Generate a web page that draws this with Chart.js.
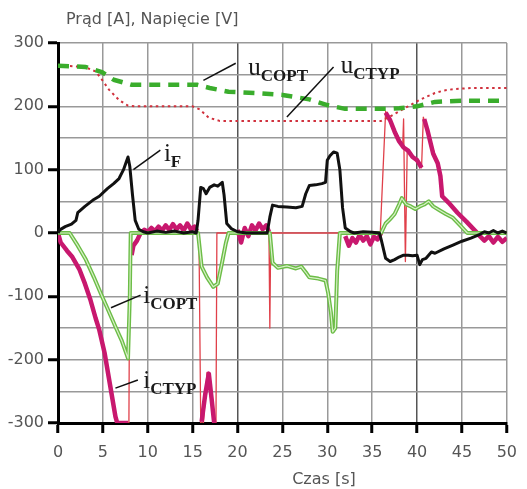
<!DOCTYPE html>
<html>
<head>
<meta charset="utf-8">
<script src="https://cdn.jsdelivr.net/npm/chart.js@4.4.0/dist/chart.umd.min.js"></script>
<style>
  html, body { margin: 0; padding: 0; background: #fff; }
  canvas { display: block; }
</style>
</head>
<body>
<canvas id="wykres" width="527" height="489"></canvas>
<script>
// Przebiegi pradow i napiec w funkcji czasu [s]

// i_F - prad (czarny)
const iFCzas = [0, 0.2, 0.8, 1.5, 2.0, 2.2, 3, 4, 4.6, 5.5, 6.2, 6.8, 7.3, 7.6, 7.8, 8.0, 8.3, 8.6, 9.0, 9.5, 10, 11, 12, 13, 14, 15, 15.4,
  15.6, 15.9, 16.2, 16.5, 16.9, 17.4, 17.8, 18.3, 18.5, 18.8, 19.3, 20, 21, 23.3,
  23.6, 23.9, 24.5, 25.5, 26.5, 27.2, 27.6, 28, 28.7, 29.4, 29.8, 30.0, 30.3, 30.7, 31.1, 31.4, 31.7, 32, 32.6, 33, 34, 35, 35.8,
  36.0, 36.5, 37, 37.5, 38, 38.5, 39, 39.5, 40, 40.3, 40.6, 41.0, 41.6, 42, 43, 44, 45, 46, 47, 47.5, 48, 48.5, 49, 49.5, 50];
const iFWart = [0, 5, 10, 14, 20, 32, 42, 53, 58, 70, 78, 86, 100, 112, 120, 105, 60, 20, 6, 2, 0, 3, 1, 3, 0, 2, 0,
  20, 72, 70, 62, 72, 76, 74, 80, 60, 15, 7, 2, 0, 0,
  25, 44, 42, 41, 40, 42, 62, 75, 76, 78, 80, 115, 122, 128, 126, 100, 40, 8, 2, 0, 2, 1, 0,
  -10, -40, -45, -42, -38, -35, -35, -36, -35, -50, -42, -40, -30, -32, -25, -19, -13, -8, -2, 2, 0, 4, 0, 3, 0];

// i_COPT - prad (zielony)
const iCoptCzas = [0, 1.3, 2.2, 3.1, 4.0, 4.9, 5.6, 6.4, 7.1, 7.8, 8.0, 8.1, 15.6,
  16.0, 16.6, 17.3, 17.8, 18.3, 18.7, 19, 23.6,
  23.9, 24.5, 25.5, 26.5, 27.1, 27.6, 28, 29, 29.8, 30.1, 30.4, 30.6, 30.9, 31.1, 31.4, 36,
  36.5, 37, 37.5, 38, 38.3, 38.8, 39.3, 39.8, 40.3, 40.8, 41.3, 41.8, 42.5, 43.2, 44, 44.8, 45.6, 50];
const iCoptWart = [0, 0, -20, -42, -70, -100, -122, -148, -170, -198, -100, 0, 0,
  -53, -70, -85, -80, -45, -16, 0, 0,
  -47, -55, -52, -56, -53, -62, -70, -72, -75, -95, -125, -156, -150, -60, 0, 0,
  15, 22, 30, 45, 55, 45, 42, 38, 42, 45, 50, 42, 36, 30, 24, 12, 0, 0];

// i_CTYP - prad (purpurowy, gruby); null = przerwa w przebiegu
const iCtypCzas = [0, 0.3, 1.0, 1.6, 2.4, 3.0, 3.6, 4.2, 4.6, 5.2, 5.8, 6.4, 6.6, 7.8, 8.0,
  8.2, 8.4, 8.8, 9.2, 9.6, 10, 10.4, 10.8, 11.2, 11.6, 12, 12.4, 12.8, 13.2, 13.6, 14, 14.4, 14.8, 15.2, 15.5, 15.7,
  16.0, 16.4, 16.8, 17.1, 17.4, 17.6,
  20, 20.4, 20.8, 21.2, 21.6, 22, 22.4, 22.8, 23.2, 23.5, 23.7,
  32, 32.4, 32.8, 33.2, 33.6, 34, 34.4, 34.8, 35.2, 35.6, 36, 36.2,
  36.5, 37, 37.5, 38, 38.5, 39, 39.5, 40, 40.5, 40.6,
  40.8, 41.2, 41.8, 42.3, 42.6, 42.8, 43.5, 44.5, 45.5, 46.5,
  47, 47.5, 48, 48.5, 49, 49.5, 50];
const iCtypWart = [0, -15, -28, -38, -58, -80, -105, -135, -153, -190, -240, -290, -300, -300, null,
  -35, -20, -12, 0, 5, 2, 8, 3, 10, 4, 12, 5, 14, 6, 12, 4, 15, 6, 10, 3, null,
  -298, -255, -222, -260, -300, null,
  5, -15, 8, -5, 12, 4, 15, 6, 12, 2, null,
  -5, -20, -8, -15, -3, -12, -5, -18, -6, -10, 0, null,
  190, 178, 160, 145, 135, 130, 120, 115, 103, null,
  180, 160, 125, 110, 90, 58, 48, 32, 18, 3,
  -5, -12, -5, -15, -6, -14, -8];

// i_CTYP - przebieg cienki (czerwony)
const iCtypCienkiCzas = [6.6, 7.9, 8.0, 15.7, 15.9, 16.2, 16.6, 17.4, 17.6, 17.7, 23.5, 23.6, 23.7, 35.9,
  36.5, 38.4, 38.5, 38.7, 38.9, 40.5, 40.7, 42.5, 42.8, 46.8, 50];
const iCtypCienkiWart = [-300, -300, 0, 0, -300, -300, -220, -300, -300, 0, 0, -150, 0, 0,
  192, 138, 180, -45, 130, 103, 183, 100, 58, 0, 0];

// u_COPT - napiecie (zielone, kreskowane)
const uCoptCzas = [0, 2, 3.1, 4.9, 6.2, 8.2, 15.5, 16.9, 19, 22, 25, 28, 30, 32, 37, 38, 40, 42, 45, 50];
const uCoptWart = [264, 263, 262, 254, 242, 234, 234, 229, 223, 221, 218, 211, 202, 196, 196, 197, 200, 207, 209, 209];

// u_CTYP - napiecie (czerwone, kropkowane)
const uCtypCzas = [0, 3, 4.2, 5.0, 5.7, 6.8, 7.8, 8.5, 15, 15.8, 16.8, 18, 36, 37, 38, 39, 40, 41, 42, 43, 44, 46, 50];
const uCtypWart = [265, 262, 255, 240, 226, 210, 201, 200, 200, 195, 182, 177, 177, 184, 192, 200, 208, 215, 221, 225, 227, 229, 229];

// Podpisy krzywych [czas, wartosc] oraz linie odniesienia
const podpisy = [
  { glowna: 'u', indeks: 'COPT', t: 21.2, v: 249 },
  { glowna: 'u', indeks: 'CTYP', t: 31.5, v: 252 },
  { glowna: 'i', indeks: 'F', t: 11.8, v: 114 },
  { glowna: 'i', indeks: 'COPT', t: 9.5, v: -110 },
  { glowna: 'i', indeks: 'CTYP', t: 9.5, v: -245 }
];
const odnosniki = [
  [16.2, 241, 19.8, 268],
  [25.5, 183, 30.7, 262],
  [8.4, 100, 11.4, 131],
  [5.9, -118, 9.2, -98],
  [6.4, -245, 8.9, -232]
];

function punkty(czas, wart) {
  return czas.map((t, i) => ({ x: t, y: wart[i] }));
}

const czcionkaOsi = { family: 'DejaVu Sans', size: 16 };

const podpisyPlugin = {
  id: 'podpisy',
  afterDatasetsDraw(chart) {
    const { ctx, scales: { x, y } } = chart;
    ctx.save();
    ctx.strokeStyle = '#111';
    ctx.lineWidth = 1.5;
    odnosniki.forEach(l => {
      ctx.beginPath();
      ctx.moveTo(x.getPixelForValue(l[0]), y.getPixelForValue(l[1]));
      ctx.lineTo(x.getPixelForValue(l[2]), y.getPixelForValue(l[3]));
      ctx.stroke();
    });
    ctx.fillStyle = '#1a1a1a';
    ctx.textBaseline = 'alphabetic';
    ctx.textAlign = 'left';
    podpisy.forEach(p => {
      const px = x.getPixelForValue(p.t);
      const py = y.getPixelForValue(p.v);
      ctx.font = '25px "Liberation Serif"';
      ctx.fillText(p.glowna, px, py);
      const w = ctx.measureText(p.glowna).width;
      ctx.font = 'bold 17px "Liberation Serif"';
      ctx.fillText(p.indeks, px + w, py + 6);
    });
    // tytuly osi
    ctx.fillStyle = '#555';
    ctx.font = '16px "DejaVu Sans"';
    ctx.textBaseline = 'middle';
    ctx.fillText('Prąd [A], Napięcie [V]', 66, 20);
    ctx.textAlign = 'center';
    ctx.fillText('Czas [s]', 324, 480);
    ctx.restore();
  }
};

const ctx = document.getElementById('wykres').getContext('2d');

new Chart(ctx, {
  type: 'line',
  data: {
    datasets: [
      { label: 'u_COPT', data: punkty(uCoptCzas, uCoptWart), borderColor: '#3aad2c', borderWidth: 4.5, borderDash: [11, 8], order: 0 },
      { label: 'u_CTYP', data: punkty(uCtypCzas, uCtypWart), borderColor: '#d0303c', borderWidth: 2, borderDash: [2.5, 3.5], order: 0 },
      { label: 'i_F', data: punkty(iFCzas, iFWart), borderColor: '#111', borderWidth: 3, order: 1 },
      { label: 'i_COPT', data: punkty(iCoptCzas, iCoptWart), borderColor: '#d8f0c8', borderWidth: 1.2, order: 3 },
      { label: 'i_COPT', data: punkty(iCoptCzas, iCoptWart), borderColor: '#6cbd47', borderWidth: 4, order: 4 },
      { label: 'i_CTYP', data: punkty(iCtypCzas, iCtypWart), borderColor: '#c8186e', borderWidth: 4.5, spanGaps: false, order: 5 },
      { label: 'i_CTYP', data: punkty(iCtypCienkiCzas, iCtypCienkiWart), borderColor: '#e0404a', borderWidth: 1.3, order: 6 }
    ]
  },
  options: {
    responsive: false,
    animation: false,
    devicePixelRatio: 1,
    elements: { point: { radius: 0 }, line: { tension: 0, fill: false, borderJoinStyle: 'round' } },
    layout: { padding: { top: 43, right: 10, left: 0, bottom: 0 } },
    plugins: { legend: { display: false }, tooltip: { enabled: false } },
    scales: {
      x: {
        type: 'linear', min: 0, max: 50,
        afterFit(s) { s.height = 66; },
        ticks: { stepSize: 5, color: '#555', font: czcionkaOsi, padding: 10, maxRotation: 0 },
        grid: {
          color: c => (c.tick && (c.tick.value === 20 || c.tick.value === 40)) ? '#555' : '#999',
          lineWidth: 1.5,
          tickColor: '#000', tickWidth: 3, tickLength: 10
        },
        border: { display: true, color: '#000', width: 3 }
      },
      y: {
        type: 'linear', min: -300, max: 300,
        afterFit(s) { s.width = 58; },
        ticks: { stepSize: 50, color: '#555', font: czcionkaOsi, padding: 4, callback: v => (v % 100 === 0 ? v : '') },
        grid: {
          color: '#999',
          lineWidth: 1.5,
          tickColor: c => (c.tick && c.tick.value % 100 === 0) ? '#000' : 'rgba(0,0,0,0)',
          tickWidth: 3, tickLength: 10
        },
        border: { display: true, color: '#000', width: 3 }
      }
    }
  },
  plugins: [podpisyPlugin]
});
</script>
</body>
</html>
